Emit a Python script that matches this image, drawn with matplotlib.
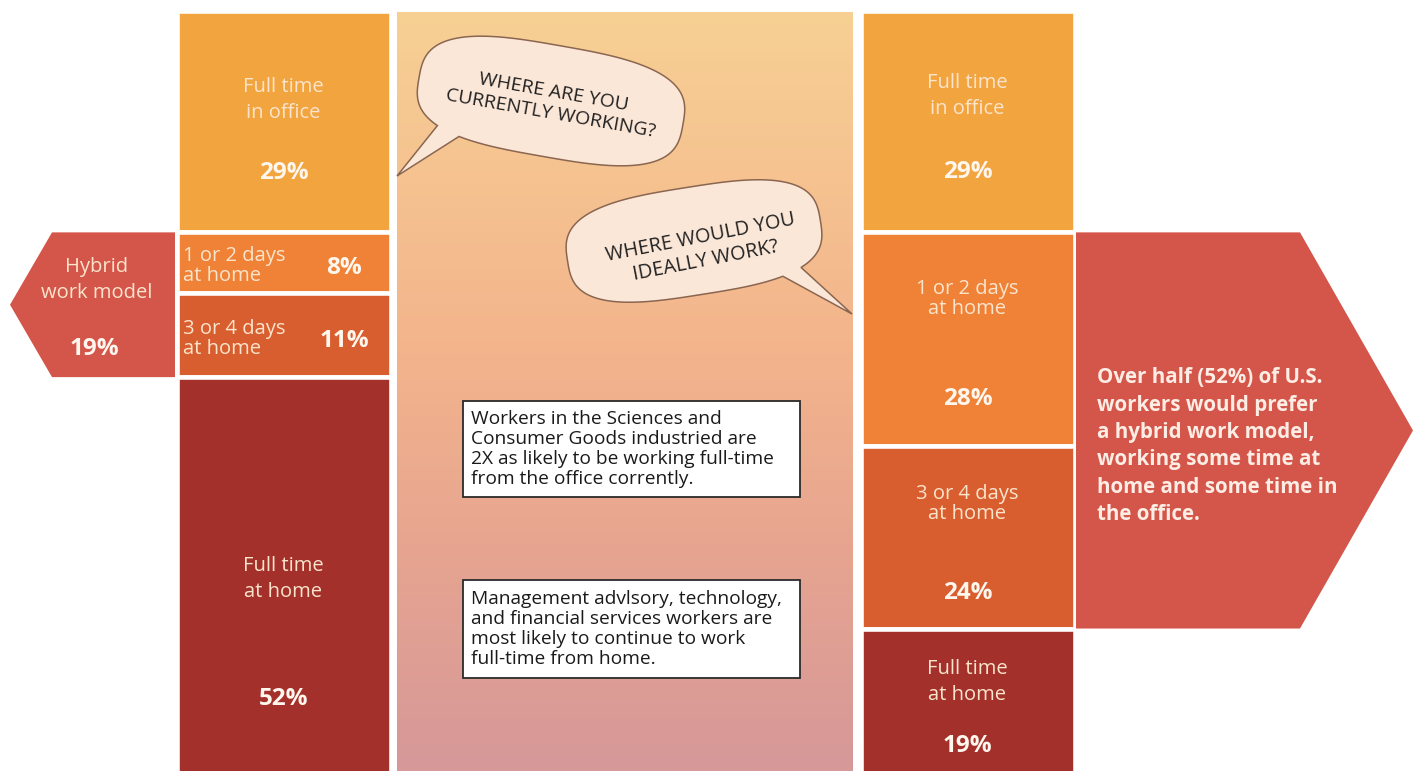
import numpy as np
import matplotlib
matplotlib.use("Agg")
import matplotlib.pyplot as plt
from matplotlib.patches import Polygon, Rectangle

plt.rcParams['font.family'] = ['Open Sans', 'DejaVu Sans']

# share of workers (%), from the office (top) down to full time at home (bottom)
current_labels = ['Full time\nin office', '1 or 2 days\nat home', '3 or 4 days\nat home', 'Full time\nat home']
current_values = [29, 8, 11, 52]
ideal_labels = ['Full time\nin office', '1 or 2 days\nat home', '3 or 4 days\nat home', 'Full time\nat home']
ideal_values = [29, 28, 24, 19]
segment_colors = ['#F2A43F', '#EF8236', '#D95E2F', '#A3302B']

question_now = 'WHERE ARE YOU\nCURRENTLY WORKING?'
question_ideal = 'WHERE WOULD YOU\nIDEALLY WORK?'
note_office = ('Workers in the Sciences and\nConsumer Goods industried are\n'
               '2X as likely to be working full-time\nfrom the office corrently.')
note_home = ('Management advlsory, technology,\nand financial services workers are\n'
             'most likely to continue to work\nfull-time from home.')

hybrid_now = sum(current_values[1:3])
hybrid_ideal = sum(ideal_values[1:3])

W, H = 1413, 771
fig = plt.figure(figsize=(W / 100, H / 100), dpi=100)
fig.patch.set_facecolor('white')

# background axes in pixel units (y down)
ax_bg = fig.add_axes([0, 0, 1, 1])
ax_bg.set_xlim(0, W)
ax_bg.set_ylim(H, 0)
ax_bg.axis('off')

# bar axes: x in pixels, y in percent (0 at top)
ax = fig.add_axes([0, 0, 1, 1])
ax.set_xlim(0, W)
ax.set_ylim(99.7, -1.5)
ax.axis('off')
ax.patch.set_alpha(0)

# centre panel with vertical gradient
stops = np.array([[247, 208, 148], [243, 180, 140], [231, 165, 144], [214, 152, 153]]) / 255.
pos = np.array([0, 0.45, 0.7, 1.0])
t = np.linspace(0, 1, 300)
grad = np.stack([np.interp(t, pos, stops[:, k]) for k in range(3)], axis=1)[:, None, :]
ax_bg.imshow(grad, extent=[397, 853, 771, 12], aspect='auto', zorder=0)


def bubble(cx, cy, a, b, rot, tip, tail_ang, tail_w, n=3.0):
    phi = np.radians(np.linspace(tail_ang + tail_w / 2, tail_ang + 360 - tail_w / 2, 300))
    x = a * np.sign(np.cos(phi)) * np.abs(np.cos(phi)) ** (2 / n)
    y = b * np.sign(np.sin(phi)) * np.abs(np.sin(phi)) ** (2 / n)
    th = np.radians(rot)
    gx = cx + x * np.cos(th) - y * np.sin(th)
    gy = cy + x * np.sin(th) + y * np.cos(th)
    pts = np.column_stack([np.append(gx, tip[0]), np.append(gy, tip[1])])
    ax_bg.add_patch(Polygon(pts, closed=True, facecolor='#FBE7D8', edgecolor='#8A6650',
                            lw=1.1, zorder=2))


bubble(551, 101, 134, 56, 10, (397, 176), 128, 16)
ax_bg.text(552, 103, question_now, rotation=-10, rotation_mode='anchor', ha='center', va='center',
           fontsize=14, color='#222222', linespacing=1.25, zorder=3)
bubble(694, 241, 128, 54, -9, (852, 314), 52, 14)
ax_bg.text(703, 249, question_ideal, rotation=11, rotation_mode='anchor', ha='center', va='center',
           fontsize=14.3, color='#222222', linespacing=1.25, zorder=3)

# note boxes
for (y0, y1), note in zip([(401, 497), (580, 678)], [note_office, note_home]):
    ax_bg.add_patch(Rectangle((463, y0), 337, y1 - y0, facecolor='white', edgecolor='#2a2a2a',
                              lw=1.3, zorder=2))
    ax_bg.text(471, (y0 + y1) / 2, note, ha='left', va='center', fontsize=13.8, color='#1a1a1a',
               linespacing=1.15, zorder=3)

# stacked columns
col_left = (178, 389)
col_right = (862, 1073)
lab_col = '#FBE4CC'
val_col = '#FFF6EE'
lab_fs = 14.5
val_fs = 17.5


def column(x0, x1, values):
    bottoms = np.concatenate([[0], np.cumsum(values)[:-1]])
    ax.bar((x0 + x1) / 2, values, width=(x1 - x0) + 3, bottom=bottoms, color=segment_colors,
           edgecolor='white', linewidth=3.3, zorder=2)
    return bottoms


b_left = column(*col_left, current_values)
b_right = column(*col_right, ideal_values)

# left column labels
lab_frac_left = [0.40, 0.55, 0.54, 0.51]
val_frac_left = [0.73, 0.58, 0.57, 0.813]
for i, (lab, v, b) in enumerate(zip(current_labels, current_values, b_left)):
    if i in (1, 2):
        ax.text(col_left[0] + 5, b + v * lab_frac_left[i], lab, ha='left', va='center', fontsize=lab_fs,
                color=lab_col, linespacing=1.0, zorder=3)
        ax.text(344, b + v * val_frac_left[i], f'{v}%', ha='center', va='center',
                fontsize=val_fs, fontweight='bold', color=val_col, zorder=3)
    else:
        ax.text(sum(col_left) / 2, b + v * lab_frac_left[i], lab, ha='center', va='center',
                fontsize=lab_fs, color=lab_col, linespacing=1.4, zorder=3)
        ax.text(sum(col_left) / 2, b + v * val_frac_left[i], f'{v}%', ha='center', va='center',
                fontsize=val_fs, fontweight='bold', color=val_col, zorder=3)

# right column labels
lab_frac_right = [0.384, 0.313, 0.317, 0.366]
val_frac_right = [0.725, 0.779, 0.808, 0.81]
for i, (lab, v, b) in enumerate(zip(ideal_labels, ideal_values, b_right)):
    ls = 1.0 if i in (1, 2) else 1.4
    ax.text(sum(col_right) / 2, b + v * lab_frac_right[i], lab, ha='center', va='center',
            fontsize=lab_fs, color=lab_col, linespacing=ls, zorder=3)
    ax.text(sum(col_right) / 2, b + v * val_frac_right[i], f'{v}%', ha='center', va='center',
            fontsize=val_fs, fontweight='bold', color=val_col, zorder=3)

# arrows spanning the hybrid segments
arrow_col = '#D4564A'
top_l, bot_l = b_left[1], b_left[2] + current_values[2]
ax.add_patch(Polygon([(175, top_l), (52, top_l), (10, (top_l + bot_l) / 2), (52, bot_l), (175, bot_l)],
                     closed=True, facecolor=arrow_col, edgecolor='none', zorder=2))
ax.text(97, top_l + 0.326 * (bot_l - top_l), 'Hybrid\nwork model', ha='center', va='center',
        fontsize=lab_fs, color=lab_col, linespacing=1.4, zorder=3)
ax.text(94, top_l + 0.805 * (bot_l - top_l), f'{hybrid_now}%', ha='center', va='center',
        fontsize=val_fs, fontweight='bold', color=val_col, zorder=3)

top_r, bot_r = b_right[1], b_right[2] + ideal_values[2]
ax.add_patch(Polygon([(1076, top_r), (1300, top_r), (1413, (top_r + bot_r) / 2), (1300, bot_r),
                      (1076, bot_r)], closed=True, facecolor=arrow_col, edgecolor='none', zorder=2))
msg = (f'Over half ({hybrid_ideal}%) of U.S.\nworkers would prefer\na hybrid work model,\n'
       'working some time at\nhome and some time in\nthe office.')
ax.text(1097, top_r + 0.54 * (bot_r - top_r), msg, ha='left', va='center', fontsize=14.8,
        fontweight='bold', color='#FDEDE4', linespacing=1.4, zorder=3)

fig.savefig('out.png', dpi=100, facecolor='white')
